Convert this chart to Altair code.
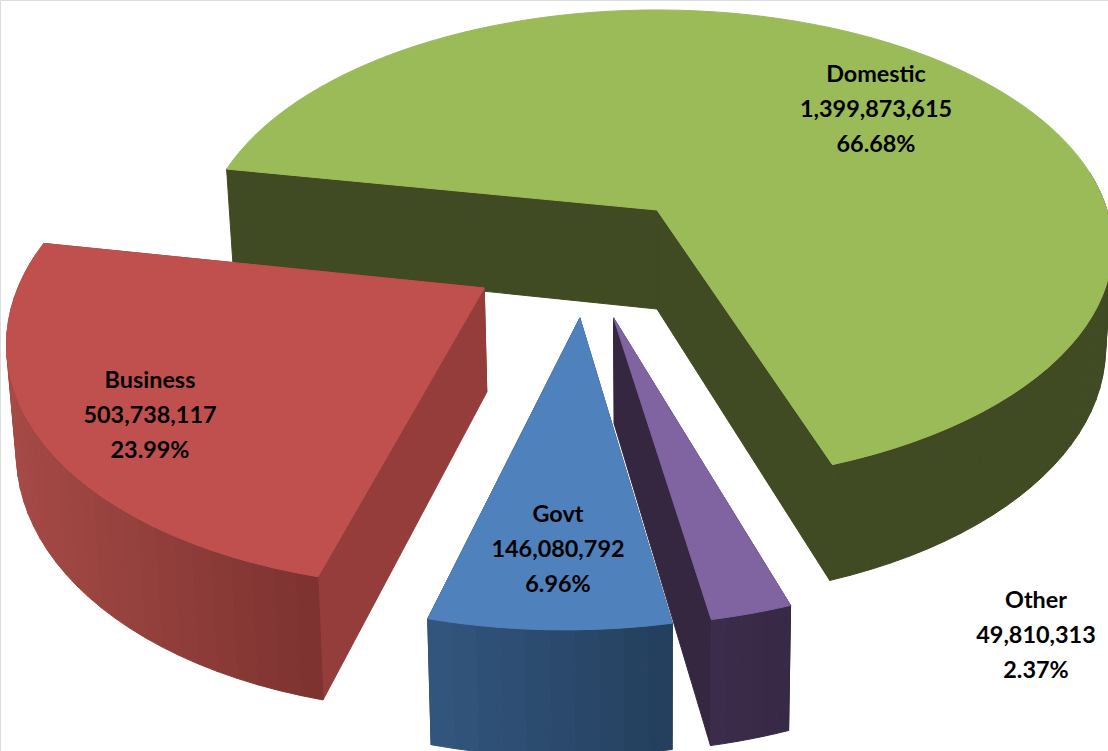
import math
import altair as alt
import pandas as pd

# Electricity-style breakdown by sector, clockwise from the upper left
sectors = ["Domestic", "Other", "Govt", "Business"]
amounts = [1399873615, 49810313, 146080792, 503738117]
shares = ["66.68%", "2.37%", "6.96%", "23.99%"]

top_colors = ["#9bbb59", "#8064a2", "#4f81bd", "#c0504d"]
rim_left = ["#404a23", "#3c2c4c", "#33567f", "#a64a46"]
rim_right = ["#404a23", "#372a45", "#243f5c", "#7c3230"]
wall_colors = ["#404a23", "#35273f", "#243f5c", "#953d3a"]

# Explosion of each slice on the pie's ground plane, and its radius factor
offset_x = [0.0, -0.09, -0.16, -0.365]
offset_y = [0.0, -0.436, -0.436, -0.321]
radius_factor = [1.0, 0.975, 0.985, 0.985]

label_x = [876, 1036, 558, 150]
label_y = [75, 601, 515, 381]

# Perspective camera for the tilted pie
CX, CY = 657, 210
R, TILT, PERSP = 450, 0.513, 0.154
DEPTH, SHRINK = 99, 0.015
START = 280.5


def project(wx, wy, wz):
    w = 1 + PERSP * wy
    return (CX + R * wx / w * (1 - SHRINK * wz),
            CY - R * TILT * wy / w + DEPTH * wz / w)


total = sum(amounts)
rows = []
poly = 0


def add_polygon(points, color):
    global poly
    for i, (px, py) in enumerate(points + points[:1]):
        rows.append({"poly": poly, "i": i, "px": px, "py": py, "col": color})
    poly += 1


def mix(a, b, t):
    ca = [int(a[j:j + 2], 16) for j in (1, 3, 5)]
    cb = [int(b[j:j + 2], 16) for j in (1, 3, 5)]
    return "#%02x%02x%02x" % tuple(round(u + (v - u) * t) for u, v in zip(ca, cb))


# Angular span of each slice from the amounts
spans = []
a = START
for v in amounts:
    spans.append((a, a + 360 * v / total))
    a += 360 * v / total

# Paint back to front: green, red, blue, purple
for s in [0, 3, 2, 1]:
    a0, a1 = spans[s]
    ox, oy, rf = offset_x[s], offset_y[s], radius_factor[s]
    n = max(6, int((a1 - a0) / 2.5))
    angs = [a0 + (a1 - a0) * j / n for j in range(n + 1)]
    world = [(ox + rf * math.sin(math.radians(t)), oy + rf * math.cos(math.radians(t))) for t in angs]

    # Cut faces running from the hub to the rim
    add_polygon([project(ox, oy, 0), project(*world[0], 0), project(*world[0], 1), project(ox, oy, 1)], wall_colors[s])
    add_polygon([project(ox, oy, 0), project(*world[-1], 0), project(*world[-1], 1), project(ox, oy, 1)], wall_colors[s])

    # Curved outer wall, shaded in narrow strips from left to right; back-facing strips are skipped
    xs = [project(*p, 0)[0] for p in world]
    lo, hi = min(xs), max(xs)
    for j in range(n):
        if math.cos(math.radians((angs[j] + angs[j + 1]) / 2)) > 0.15:
            continue
        mid = (xs[j] + xs[j + 1]) / 2
        add_polygon([project(*world[j], 0), project(*world[j + 1], 0),
                     project(*world[j + 1], 1), project(*world[j], 1)],
                    mix(rim_left[s], rim_right[s], (mid - lo) / (hi - lo)))

    # Top face
    add_polygon([project(ox, oy, 0)] + [project(*p, 0) for p in world], top_colors[s])

df = pd.DataFrame(rows)

x_scale = alt.Scale(domain=[0, 1108], nice=False, zero=False)
y_scale = alt.Scale(domain=[751, 0], nice=False, zero=False)

faces = alt.Chart(df).mark_line(
    strokeWidth=1, interpolate="linear", opacity=1, fillOpacity=1, strokeOpacity=1, strokeJoin="round"
).encode(
    x=alt.X("px:Q", scale=x_scale, axis=None),
    y=alt.Y("py:Q", scale=y_scale, axis=None),
    detail="poly:N",
    order="i:Q",
    fill=alt.Fill("col:N", scale=None),
    stroke=alt.Stroke("col:N", scale=None),
)

labels = []
for s, name in enumerate(sectors):
    for line, content in enumerate([name, f"{amounts[s]:,}", shares[s]]):
        labels.append({"lx": label_x[s], "ly": label_y[s] + line * 35, "txt": content})

text = alt.Chart(pd.DataFrame(labels)).mark_text(
    font="Lato", fontWeight="bold", fontSize=23.4, color="#000000", align="center", baseline="middle"
).encode(
    x=alt.X("lx:Q", scale=x_scale, axis=None),
    y=alt.Y("ly:Q", scale=y_scale, axis=None),
    text="txt:N",
)

chart = (faces + text).properties(
    width=1108, height=751, padding=0, autosize=alt.AutoSizeParams(type="none")
).configure_view(stroke=None).configure(background="#ffffff")

chart.save("out.html", embed_options={"renderer": "svg", "actions": False})
